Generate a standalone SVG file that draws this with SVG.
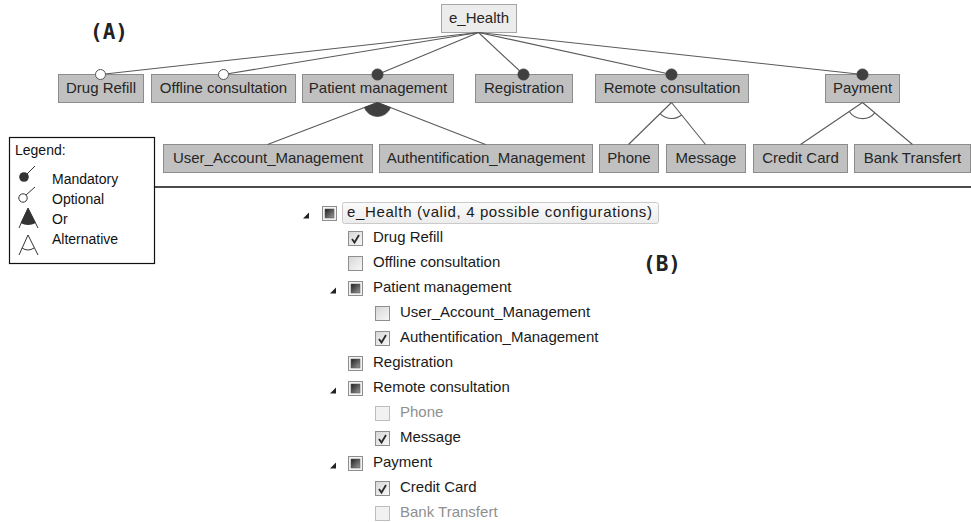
<svg xmlns="http://www.w3.org/2000/svg" width="971" height="522" viewBox="0 0 971 522">
<style>
.node rect{fill:#c0c0c0;stroke:#8c8c8c;stroke-width:1}
.root rect{fill:#ececec;stroke:#a6a6a6}
.lbl{font-family:"Liberation Sans",Arial,sans-serif;font-size:15px;fill:#262626;text-anchor:middle}
.edge{stroke:#5a5a5a;stroke-width:1.1;fill:none}
.man{fill:#404040;stroke:#404040}
.opt{fill:#fff;stroke:#555}
.orf{fill:#404040;stroke:#404040;stroke-width:0.8}
.tree{font-family:"Liberation Sans",Arial,sans-serif;font-size:15px;fill:#1a1a1a}
.dim{fill:#8f8f8f}
.tag{font-family:"DejaVu Sans Mono","Liberation Mono",monospace;font-weight:bold;font-size:21px;fill:#222}
.leg{font-family:"Liberation Sans",Arial,sans-serif;font-size:14px;fill:#111}
.exp{fill:#222}
</style>
<defs>
<linearGradient id="gBox" x1="0" y1="0" x2="1" y2="1"><stop offset="0" stop-color="#d6d6d6"/><stop offset="1" stop-color="#f8f8f8"/></linearGradient>
<linearGradient id="gSq" x1="0" y1="0" x2="1" y2="1"><stop offset="0" stop-color="#1e1e1e"/><stop offset="1" stop-color="#9a9a9a"/></linearGradient>
<linearGradient id="gHi" x1="0" y1="0" x2="0" y2="1"><stop offset="0" stop-color="#fbfbfb"/><stop offset="1" stop-color="#ececec"/></linearGradient>
<g id="cbU"><rect x="0.5" y="0.5" width="14" height="14" fill="url(#gBox)" stroke="#8e8e8e"/></g>
<g id="cbD"><rect x="0.5" y="0.5" width="14" height="14" fill="#f1f1f1" stroke="#bdbdbd"/></g>
<g id="cbC"><rect x="0.5" y="0.5" width="14" height="14" fill="url(#gBox)" stroke="#8e8e8e"/><path d="M4,8 L6.5,11.5 L11,4" stroke="#2a2a2a" stroke-width="1.8" fill="none"/></g>
<g id="cbS"><rect x="0.5" y="0.5" width="14" height="14" fill="#f2f2f2" stroke="#8e8e8e"/><rect x="3" y="3" width="9" height="9" fill="url(#gSq)" stroke="#555" stroke-width="0.5"/></g>
</defs>
<rect width="971" height="522" fill="#fff"/>

<text class="tag" x="90" y="39">(A)</text>
<text class="tag" x="643" y="271">(B)</text>

<!-- feature model nodes -->
<g id="n-ehealth" class="node root"><rect x="441.5" y="4.5" width="75" height="28"/><text class="lbl" x="479" y="23">e_Health</text></g>
<g id="n-drug-refill" class="node"><rect x="58.5" y="74.5" width="85" height="28"/><text class="lbl" x="101" y="93">Drug Refill</text></g>
<g id="n-offline" class="node"><rect x="151.5" y="74.5" width="144" height="28"/><text class="lbl" x="223.5" y="93">Offline consultation</text></g>
<g id="n-patient" class="node"><rect x="302.5" y="74.5" width="151" height="28"/><text class="lbl" x="378" y="93">Patient management</text></g>
<g id="n-registration" class="node"><rect x="475.5" y="74.5" width="97" height="28"/><text class="lbl" x="524" y="93">Registration</text></g>
<g id="n-remote" class="node"><rect x="595.5" y="74.5" width="153" height="28"/><text class="lbl" x="672" y="93">Remote consultation</text></g>
<g id="n-payment" class="node"><rect x="825.5" y="74.5" width="74" height="28"/><text class="lbl" x="862.5" y="93">Payment</text></g>
<g id="n-user" class="node"><rect x="163.5" y="144.5" width="209" height="28"/><text class="lbl" x="268" y="163">User_Account_Management</text></g>
<g id="n-auth" class="node"><rect x="379.5" y="144.5" width="213" height="28"/><text class="lbl" x="486" y="163">Authentification_Management</text></g>
<g id="n-phone" class="node"><rect x="599.5" y="144.5" width="59" height="28"/><text class="lbl" x="629" y="163">Phone</text></g>
<g id="n-message" class="node"><rect x="666.5" y="144.5" width="79" height="28"/><text class="lbl" x="706" y="163">Message</text></g>
<g id="n-credit" class="node"><rect x="753.5" y="144.5" width="94" height="28"/><text class="lbl" x="800.5" y="163">Credit Card</text></g>
<g id="n-bank" class="node"><rect x="854.5" y="144.5" width="116" height="28"/><text class="lbl" x="912.5" y="163">Bank Transfert</text></g>

<!-- connectors -->
<g id="connectors">
<g class="edge">
<line x1="478.5" y1="32.5" x2="100.5" y2="74.5"/>
<line x1="478.5" y1="32.5" x2="223.5" y2="74.5"/>
<line x1="478.5" y1="32.5" x2="377.5" y2="74.5"/>
<line x1="478.5" y1="32.5" x2="523.5" y2="74.5"/>
<line x1="478.5" y1="32.5" x2="671.5" y2="74.5"/>
<line x1="478.5" y1="32.5" x2="862.5" y2="74.5"/>
<line x1="377.5" y1="102.5" x2="267.5" y2="144.5"/>
<line x1="377.5" y1="102.5" x2="485.5" y2="144.5"/>
<line x1="671.5" y1="102.5" x2="628.5" y2="144.5"/>
<line x1="671.5" y1="102.5" x2="705.5" y2="144.5"/>
<line x1="862.5" y1="102.5" x2="800.5" y2="144.5"/>
<line x1="862.5" y1="102.5" x2="912.5" y2="144.5"/>
<path d="M660.1,113.7 A16,16 0 0,0 681.6,115"/>
<path d="M849.2,111.5 A16,16 0 0,0 874.8,112.8"/>
</g>
<path class="orf" d="M377.5,102.5 L364.4,107.5 A14,14 0 0,0 390.5,107.6 Z"/>
<circle class="opt" cx="100.5" cy="74.5" r="5"/>
<circle class="opt" cx="223.5" cy="74.5" r="5"/>
<circle class="man" cx="377.5" cy="74.5" r="5.5"/>
<circle class="man" cx="523.5" cy="74.5" r="5.5"/>
<circle class="man" cx="671.5" cy="74.5" r="5.5"/>
<circle class="man" cx="862.5" cy="74.5" r="5.5"/>
</g>

<!-- legend -->
<g id="legend">
<rect x="9.5" y="137.5" width="145" height="126" fill="#fff" stroke="#111" stroke-width="1.2"/>
<text class="leg" x="15" y="155">Legend:</text>
<circle cx="24" cy="177" r="4.8" fill="#333"/>
<line x1="27" y1="174" x2="35" y2="166" stroke="#333"/>
<text class="leg" x="52" y="184">Mandatory</text>
<circle cx="23" cy="198" r="4.2" fill="#fff" stroke="#333"/>
<line x1="26" y1="195" x2="35" y2="187" stroke="#333"/>
<text class="leg" x="52" y="204">Optional</text>
<path d="M28,208 L19,228 M28,208 L38,228" stroke="#333" fill="none"/>
<path d="M28,208 L20.5,223 Q28,227 35.8,223 Z" fill="#333"/>
<text class="leg" x="52" y="224">Or</text>
<path d="M28,235 L19,255 M28,235 L38,255 M22,248 Q28,252 34,248" stroke="#333" fill="none"/>
<text class="leg" x="52" y="244">Alternative</text>
</g>

<line id="divider" x1="155" y1="187" x2="971" y2="187" stroke="#111" stroke-width="1.3"/>

<!-- configuration tree -->
<g id="tree">
<rect x="342.5" y="202.5" width="316" height="21" rx="2" fill="url(#gHi)" stroke="#cacaca"/>
<g id="t-root"><path class="exp" d="M303,218.5 L309,218.5 L309,212.5 Z"/><use href="#cbS" x="322" y="206"/><text class="tree" x="347" y="217" textLength="305" lengthAdjust="spacing">e_Health (valid, 4 possible configurations)</text></g>
<g id="t-drug"><use href="#cbC" x="348" y="231"/><text class="tree" x="373" y="242">Drug Refill</text></g>
<g id="t-offline"><use href="#cbU" x="348" y="256"/><text class="tree" x="373" y="267">Offline consultation</text></g>
<g id="t-patient"><path class="exp" d="M330,293.5 L336,293.5 L336,287.5 Z"/><use href="#cbS" x="348" y="281"/><text class="tree" x="373" y="292">Patient management</text></g>
<g id="t-user"><use href="#cbU" x="375" y="306"/><text class="tree" x="400" y="317">User_Account_Management</text></g>
<g id="t-auth"><use href="#cbC" x="375" y="331"/><text class="tree" x="400" y="342">Authentification_Management</text></g>
<g id="t-registration"><use href="#cbS" x="348" y="356"/><text class="tree" x="373" y="367">Registration</text></g>
<g id="t-remote"><path class="exp" d="M330,393.5 L336,393.5 L336,387.5 Z"/><use href="#cbS" x="348" y="381"/><text class="tree" x="373" y="392">Remote consultation</text></g>
<g id="t-phone"><use href="#cbD" x="375" y="406"/><text class="tree dim" x="400" y="417">Phone</text></g>
<g id="t-message"><use href="#cbC" x="375" y="431"/><text class="tree" x="400" y="442">Message</text></g>
<g id="t-payment"><path class="exp" d="M330,468.5 L336,468.5 L336,462.5 Z"/><use href="#cbS" x="348" y="456"/><text class="tree" x="373" y="467">Payment</text></g>
<g id="t-credit"><use href="#cbC" x="375" y="481"/><text class="tree" x="400" y="492">Credit Card</text></g>
<g id="t-bank"><use href="#cbD" x="375" y="506"/><text class="tree dim" x="400" y="517">Bank Transfert</text></g>
</g>
</svg>
